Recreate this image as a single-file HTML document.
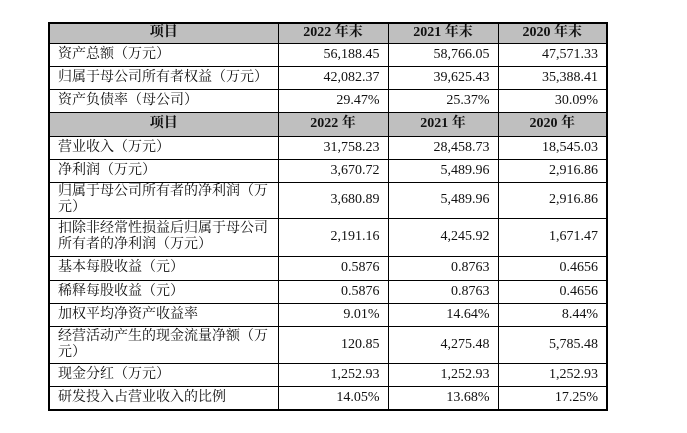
<!DOCTYPE html>
<html><head><meta charset="utf-8"><style>
body{margin:0;width:687px;height:433px;background:#fff;overflow:hidden}
table{position:absolute;left:48px;top:22px;border-collapse:collapse;border:2px solid #000;font-family:"Liberation Serif","Noto Serif CJK SC",serif;font-size:14px;color:#111;table-layout:fixed}
td{border:1px solid #000;padding:0 8px;line-height:16px;text-align:right;overflow:hidden}
td:first-child{text-align:left;padding-left:8px}
tr.h td{background:#bfbfbf;font-weight:bold;text-align:center;}
</style></head><body>
<table>
<colgroup><col style="width:229px"><col style="width:110px"><col style="width:110px"><col style="width:109px"></colgroup>
<tr class="h" style="height:20px"><td>项目</td><td>2022 年末</td><td>2021 年末</td><td>2020 年末</td></tr>
<tr style="height:23px"><td>资产总额（万元）</td><td>56,188.45</td><td>58,766.05</td><td>47,571.33</td></tr>
<tr style="height:23px"><td>归属于母公司所有者权益（万元）</td><td>42,082.37</td><td>39,625.43</td><td>35,388.41</td></tr>
<tr style="height:23px"><td>资产负债率（母公司）</td><td>29.47%</td><td>25.37%</td><td>30.09%</td></tr>
<tr class="h" style="height:24px"><td>项目</td><td>2022 年</td><td>2021 年</td><td>2020 年</td></tr>
<tr style="height:23px"><td>营业收入（万元）</td><td>31,758.23</td><td>28,458.73</td><td>18,545.03</td></tr>
<tr style="height:23px"><td>净利润（万元）</td><td>3,670.72</td><td>5,489.96</td><td>2,916.86</td></tr>
<tr style="height:36px"><td>归属于母公司所有者的净利润（万元）</td><td>3,680.89</td><td>5,489.96</td><td>2,916.86</td></tr>
<tr style="height:38px"><td>扣除非经常性损益后归属于母公司所有者的净利润（万元）</td><td>2,191.16</td><td>4,245.92</td><td>1,671.47</td></tr>
<tr style="height:24px"><td>基本每股收益（元）</td><td>0.5876</td><td>0.8763</td><td>0.4656</td></tr>
<tr style="height:23px"><td>稀释每股收益（元）</td><td>0.5876</td><td>0.8763</td><td>0.4656</td></tr>
<tr style="height:23px"><td>加权平均净资产收益率</td><td>9.01%</td><td>14.64%</td><td>8.44%</td></tr>
<tr style="height:37px"><td>经营活动产生的现金流量净额（万元）</td><td>120.85</td><td>4,275.48</td><td>5,785.48</td></tr>
<tr style="height:23px"><td>现金分红（万元）</td><td>1,252.93</td><td>1,252.93</td><td>1,252.93</td></tr>
<tr style="height:24px"><td>研发投入占营业收入的比例</td><td>14.05%</td><td>13.68%</td><td>17.25%</td></tr>
</table>
</body></html>
